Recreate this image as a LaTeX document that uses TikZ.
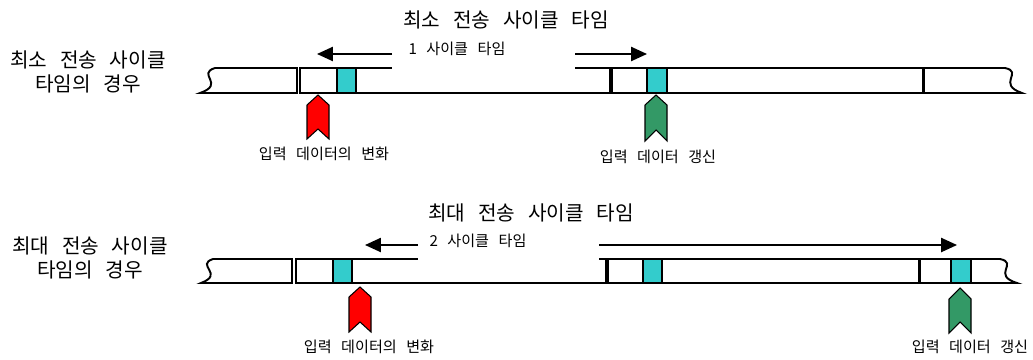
\documentclass[tikz,border=0pt]{standalone}
\usepackage{fontspec}
\setmainfont{Noto Sans CJK KR}
\newfontfamily\krbig{Noto Sans CJK KR}[WordSpace=2.4]
\newfontfamily\krsmall{Noto Sans CJK KR}[WordSpace=2.8]
\usetikzlibrary{arrows.meta}

\definecolor{slotcyan}{HTML}{33CCCC}
\definecolor{markgreen}{HTML}{339966}

\begin{document}
\begin{tikzpicture}[x=0.02cm, y=-0.02cm,
  bar/.style={draw=black, fill=white, line width=1.1pt},
  slot/.style={draw=black, fill=slotcyan, line width=1.1pt},
  sep/.style={line width=1.7pt},
  redmark/.style={draw=black, fill=red, line width=0.6pt, line join=miter},
  greenmark/.style={draw=black, fill=markgreen, line width=0.6pt, line join=miter},
  span/.style={-{Triangle[length=9pt,width=8pt]}, line width=1pt},
  bigtext/.style={font=\fontsize{11.5}{14}\krbig, inner sep=0pt},
  smalltext/.style={font=\fontsize{8.6}{10}\krsmall, inner sep=0pt}]
\useasboundingbox (0,0) rectangle (1033,359);

% minimum cycle
\draw[bar] (215,68) -- (297,68) -- (297,93) -- (200,93) .. controls (226,84) and (196,74) .. cycle;
\draw[bar] (300,68) rectangle (610,93);
\draw[bar] (612,68) -- (1005,68) .. controls (1024,72) and (996,84) .. (1022,93) -- (612,93) -- cycle;
\draw[sep] (923,68) -- (923,93);
\draw[slot] (337,68) rectangle (356,93);
\draw[slot] (647,68) rectangle (667,93);

% maximum cycle
\draw[bar] (213,259) -- (292,259) -- (292,283) -- (201,283) .. controls (225,274) and (195,265) .. cycle;
\draw[bar] (296,259) rectangle (606,283);
\draw[bar] (608,259) -- (1000,259) .. controls (1019,263) and (991,275) .. (1017,283) -- (608,283) -- cycle;
\draw[sep] (919,259) -- (919,283);
\draw[slot] (333,259) rectangle (352,283);
\draw[slot] (643,259) rectangle (662,283);
\draw[slot] (951,259) rectangle (971,283);

% markers
\draw[redmark] (318,95) -- (329,105) -- (329,139) -- (318,129) -- (307,139) -- (307,105) -- cycle;
\draw[greenmark] (656,95) -- (667,105) -- (667,141) -- (656,130) -- (645,141) -- (645,105) -- cycle;
\draw[redmark] (360,287) -- (371,297) -- (371,332) -- (360,322) -- (349,332) -- (349,297) -- cycle;
\draw[greenmark] (960,288) -- (971,299) -- (971,333) -- (960,322) -- (949,333) -- (949,299) -- cycle;

% cycle arrows
\fill[white] (392,36) rectangle (575,69.3);
\fill[white] (418,226) rectangle (599,260.3);
\coordinate (cyc1a) at (392,54);
\coordinate (cyc1b) at (317,54);
\coordinate (cyc1c) at (575,54);
\coordinate (cyc1d) at (647,54);
\coordinate (cyc2a) at (418,245);
\coordinate (cyc2b) at (365,245);
\coordinate (cyc2c) at (599,245);
\coordinate (cyc2d) at (957,245);
\draw[span] (cyc1a) -- (cyc1b);
\draw[span] (cyc1c) -- (cyc1d);
\draw[span] (cyc2a) -- (cyc2b);
\draw[span] (cyc2c) -- (cyc2d);

% labels
\node[bigtext] (title1) at (506,20) {최소 전송 사이클 타임};
\node[bigtext] (title2) at (531,213) {최대 전송 사이클 타임};
\node[bigtext, align=center] (case1) at (88,72) {최소 전송 사이클\\타임의 경우};
\node[bigtext, align=center] (case2) at (90,258) {최대 전송 사이클\\타임의 경우};
\node[smalltext] (cyc1) at (457,49) {1 사이클 타임};
\node[smalltext] (cyc2) at (478,241) {2 사이클 타임};
\node[smalltext] (chg1) at (324,154) {입력 데이터의 변화};
\node[smalltext] (upd1) at (658,157) {입력 데이터 갱신};
\node[smalltext] (chg2) at (369,347) {입력 데이터의 변화};
\node[smalltext] (upd2) at (970,347) {입력 데이터 갱신};
\end{tikzpicture}
\end{document}
